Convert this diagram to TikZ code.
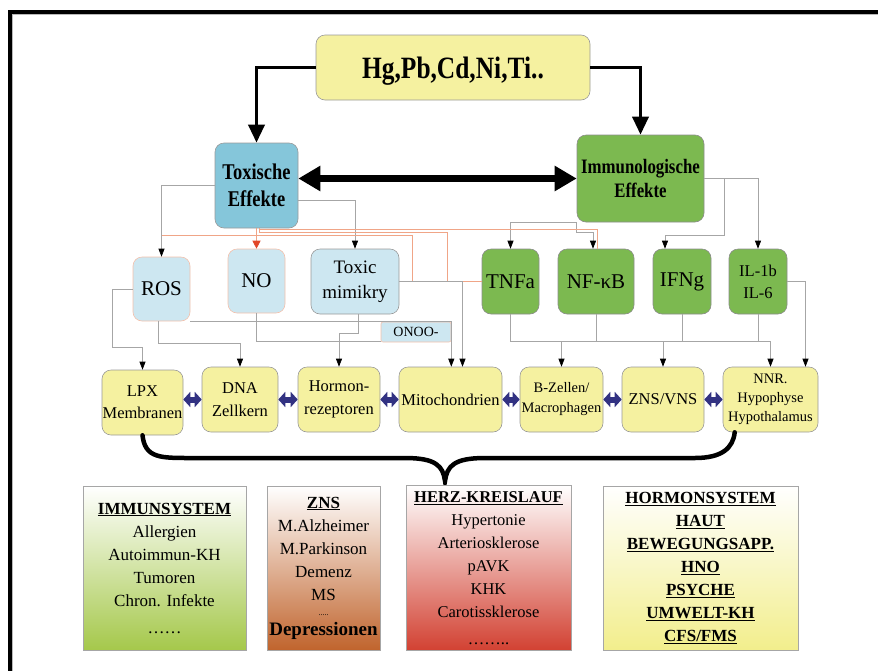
\documentclass[tikz,border=0pt]{standalone}
\usepackage{fontspec}
\setmainfont{Liberation Serif}
\newfontfamily\condfont{Liberation Serif}[FakeStretch=0.82]
\usetikzlibrary{arrows.meta,positioning,calc}
\definecolor{hgyel}{RGB}{245,241,160}
\definecolor{toxblue}{RGB}{133,198,218}
\definecolor{immgreen}{RGB}{124,185,80}
\definecolor{paleblue}{RGB}{205,231,241}
\definecolor{salmonline}{RGB}{240,165,135}
\definecolor{noarrow}{RGB}{225,70,40}
\definecolor{navyarr}{RGB}{50,50,130}
\definecolor{immbot}{RGB}{165,200,75}
\definecolor{znsbot}{RGB}{192,100,45}
\definecolor{herzbot}{RGB}{210,65,50}
\definecolor{hormbot}{RGB}{242,238,140}
\newcommand{\setfs}[2]{\fontsize{#1}{#2}\selectfont}
\newcommand{\hdr}[1]{\underline{\textbf{#1}}}

\begin{document}
\begin{tikzpicture}
[x=1pt,y=-1pt,
box/.style={draw=gray!80,line width=0.6pt,rounded corners=9pt,align=center,inner sep=0pt},
hgbox/.style={box,fill=hgyel},
toxbox/.style={box,fill=toxblue},
immbox/.style={box,fill=immgreen,draw=gray!90},
bluebox/.style={box,fill=paleblue,draw=salmonline!70},
greenbox/.style={box,fill=immgreen,draw=gray!90},
yelbox/.style={box,fill=hgyel},
sysbox/.style={draw=gray!70,line width=0.8pt,align=center,inner sep=0pt,font=\setfs{17}{23}},
link/.style={draw=gray!70,line width=0.7pt,-{Triangle[width=6pt,length=8pt,color=black,fill=black]}},
gline/.style={draw=gray!70,line width=0.7pt},
salm/.style={draw=salmonline,line width=0.7pt},
fatarr/.style={line width=3.5pt,-{Triangle[width=16pt,length=18pt]}},
dblarr/.style={line width=7pt,{Triangle[width=24pt,length=22pt]}-{Triangle[width=24pt,length=22pt]}},
navydbl/.style={draw=navyarr,line width=6pt,{Triangle[width=15pt,length=7pt]}-{Triangle[width=15pt,length=7pt]}},
brace/.style={line width=4.5pt,line cap=round}]
\useasboundingbox (0,0) rectangle (878,670);
\clip (0,0) rectangle (878,670);
%% frame
\draw[line width=4pt] (9.5,700) -- (9.5,11.5) -- (900,11.5);
\draw[gray!55,line width=1.2pt] (12.3,700) -- (12.3,14.3) -- (900,14.3);
%%
%%%%%%%%%%%%%%%%%%
% Metals and effects
%%%%%%%%%%%%%%%%%%
\node[hgbox,minimum width=274,minimum height=65,text depth=0pt,font=\condfont\bfseries\setfs{31}{34}] (hg) at (453,67.5) {Hg,Pb,Cd,Ni,Ti..};
\node[toxbox,minimum width=83,minimum height=85,font=\condfont\bfseries\setfs{22.5}{27}] (tox) at (256.5,185.5) {Toxische\\Effekte};
\node[immbox,minimum width=127,minimum height=87,font=\condfont\bfseries\setfs{20.5}{24}] (imm) at (640.5,178.5) {Immunologische\\Effekte};
\draw[fatarr] (hg.west) -| (tox.north);
\draw[fatarr] (hg.east) -| (imm.north);
\draw[dblarr] (tox.east |- imm.west) -- (imm.west);
%%
%%%%%%%%%%%%%%%%%%
% Mediators
%%%%%%%%%%%%%%%%%%
\node[bluebox,minimum width=57,minimum height=64,font=\setfs{21}{25}] (ros) at (161.5,289) {ROS};
\node[bluebox,minimum width=57,minimum height=64,font=\setfs{21}{25}] (no) at (256.5,281) {NO};
\node[bluebox,draw=gray!80,minimum width=88,minimum height=65,font=\setfs{19}{25}] (mimik) at (355,281.5) {Toxic\\mimikry};
\node[bluebox,rounded corners=2pt,minimum width=70,minimum height=20,font=\setfs{14}{15}] (onoo) at (416,332) {ONOO-};
\node[greenbox,minimum width=57,minimum height=65,font=\setfs{21}{25}] (tnf) at (510.5,281.5) {TNFa};
\node[greenbox,minimum width=76,minimum height=65,font=\setfs{21}{25}] (nfkb) at (596,281.5) {NF-κB};
\node[greenbox,minimum width=58,minimum height=65,font=\setfs{21}{25}] (ifng) at (682,281.5) {IFNg};
\node[greenbox,minimum width=58,minimum height=65,font=\setfs{16.5}{22}] (il) at (758,281.5) {IL-1b\\IL-6};
%%
%%%%%%%%%%%%%%%%%%
% Targets
%%%%%%%%%%%%%%%%%%
\node[yelbox,minimum width=81,minimum height=65,font=\setfs{16.5}{22}] (lpx) at (142.5,402.5) {LPX\\Membranen};
\node[yelbox,minimum width=76,minimum height=65,font=\setfs{16.5}{23}] (dna) at (240,399.5) {DNA\\Zellkern};
\node[yelbox,minimum width=82,minimum height=65,font=\setfs{16.5}{23}] (horm) at (339,399.5) {Hormon-\\rezeptoren};
\node[yelbox,minimum width=103,minimum height=65,font=\setfs{16.5}{23}] (mito) at (450.5,399.5) {Mitochondrien};
\node[yelbox,minimum width=83,minimum height=65,font=\setfs{14.5}{20}] (bzell) at (561.5,399.5) {B-Zellen/\\Macrophagen};
\node[yelbox,minimum width=82,minimum height=65,font=\setfs{16.5}{23}] (zns) at (663,399.5) {ZNS/VNS};
\node[yelbox,minimum width=95,minimum height=65,font=\setfs{14.5}{19}] (nnr) at (770.5,399.5) {NNR.\\Hypophyse\\Hypothalamus};
\foreach \a/\b in {lpx/dna,dna/horm,horm/mito,mito/bzell,bzell/zns,zns/nnr}
  \draw[navydbl] (\b.west -| \a.east) -- (\b.west);
%%
%% links from the effects
\draw[link] (tox.west) -| (ros.north);
\draw[link] ([yshift=-15pt]tox.east) -| (mimik.north);
\draw[link] (imm.south west) -| (tnf.north);
\draw[link] (imm.south west) -- ++(0,10) -| ([xshift=-3pt]nfkb.north);
\draw[link] (imm.east) -| ++(20,57) -| ([xshift=-17pt]ifng.north);
\draw[link] (imm.east) -| (il.north);
%% salmon links
\coordinate (rosin) at (161.5,235);
\draw[salm] ([xshift=3pt]tox.south) |- ([xshift=1pt]nfkb.north |- 0,229) -- ([xshift=1pt]nfkb.north);
\draw[salm] ([xshift=3pt]tox.south) |- (447,232) |- (tnf.west);
\draw[salm] (rosin) -| ([xshift=-69pt]tnf.west) -- (tnf.west);
\draw[salm,-{Triangle[width=8pt,length=8pt,color=noarrow,fill=noarrow]}] (tox.south) -- (no.north);
%%
%% links to the targets
\draw[link] (ros.west) -| ++(-20,58) -| (lpx.north);
\draw[link] ([xshift=-3pt]ros.south) -- ++(0,22) -| (dna.north);
\draw[link] (ros.south east) -- (ros.south east -| onoo.east) -- (onoo.east |- mito.north);
\draw[gline] (no.south) |- ([yshift=-9pt]onoo.west);
\draw[link] ([xshift=3pt]mimik.south) -- ++(0,19) -| (horm.north);
\draw[link] (mimik.east) -| ([xshift=12pt]mito.north);
\coordinate (bus) at (0,341);
\draw[link] (tnf.south) -- (tnf.south |- bus) -| (nnr.north);
\draw[gline] (nfkb.south) -- (nfkb.south |- bus);
\draw[gline] (ifng.south) -- (ifng.south |- bus);
\draw[gline] (il.south) -- (il.south |- bus);
\draw[link] (bzell.north |- bus) -- (bzell.north);
\draw[link] (zns.north |- bus) -- (zns.north);
\draw[link] (il.east) -| ([xshift=35pt]nnr.north);
%%
%%%%%%%%%%%%%%%%%%
% Diseases
%%%%%%%%%%%%%%%%%%
\coordinate (tip) at (445,481);
\draw[brace] (lpx.south) .. controls (145,458) and (160,458) .. (190,458) -- (405,458)
  .. controls (436,458) and (443,466) .. (tip) .. controls (447,466) and (454,458) .. (485,458)
  -- (695,458) .. controls (722,458) and (733,448) .. ([xshift=12pt]nnr.south west);
\node[sysbox,top color=white,bottom color=immbot,minimum width=163,minimum height=164] (immsys) at (164.5,568)
  {\hdr{IMMUNSYSTEM}\\Allergien\\Autoimmun-KH\\Tumoren\\Chron. Infekte\\[4pt]……};
\node[sysbox,top color=white,bottom color=znsbot,minimum width=113,minimum height=164] (znssys) at (323.5,568)
  {\hdr{ZNS}\\M.Alzheimer\\M.Parkinson\\Demenz\\MS\\[-8pt]{\setfs{8}{8}.....}\\[-3pt]{\setfs{19}{23}\textbf{Depressionen}}};
\node[sysbox,font=\setfs{16.5}{23},top color=white,bottom color=herzbot,minimum width=165,minimum height=165] (herz) at (488.5,568)
  {\hdr{HERZ-KREISLAUF}\\Hypertonie\\Arteriosklerose\\pAVK\\KHK\\Carotissklerose\\[4pt]……..};
\node[sysbox,top color=white,bottom color=hormbot,minimum width=195,minimum height=164] (hormsys) at (700.5,568)
  {\hdr{HORMONSYSTEM}\\\hdr{HAUT}\\\hdr{BEWEGUNGSAPP.}\\\hdr{HNO}\\\hdr{PSYCHE}\\\hdr{UMWELT-KH}\\\hdr{CFS/FMS}};
%%
\end{tikzpicture}
\end{document}
